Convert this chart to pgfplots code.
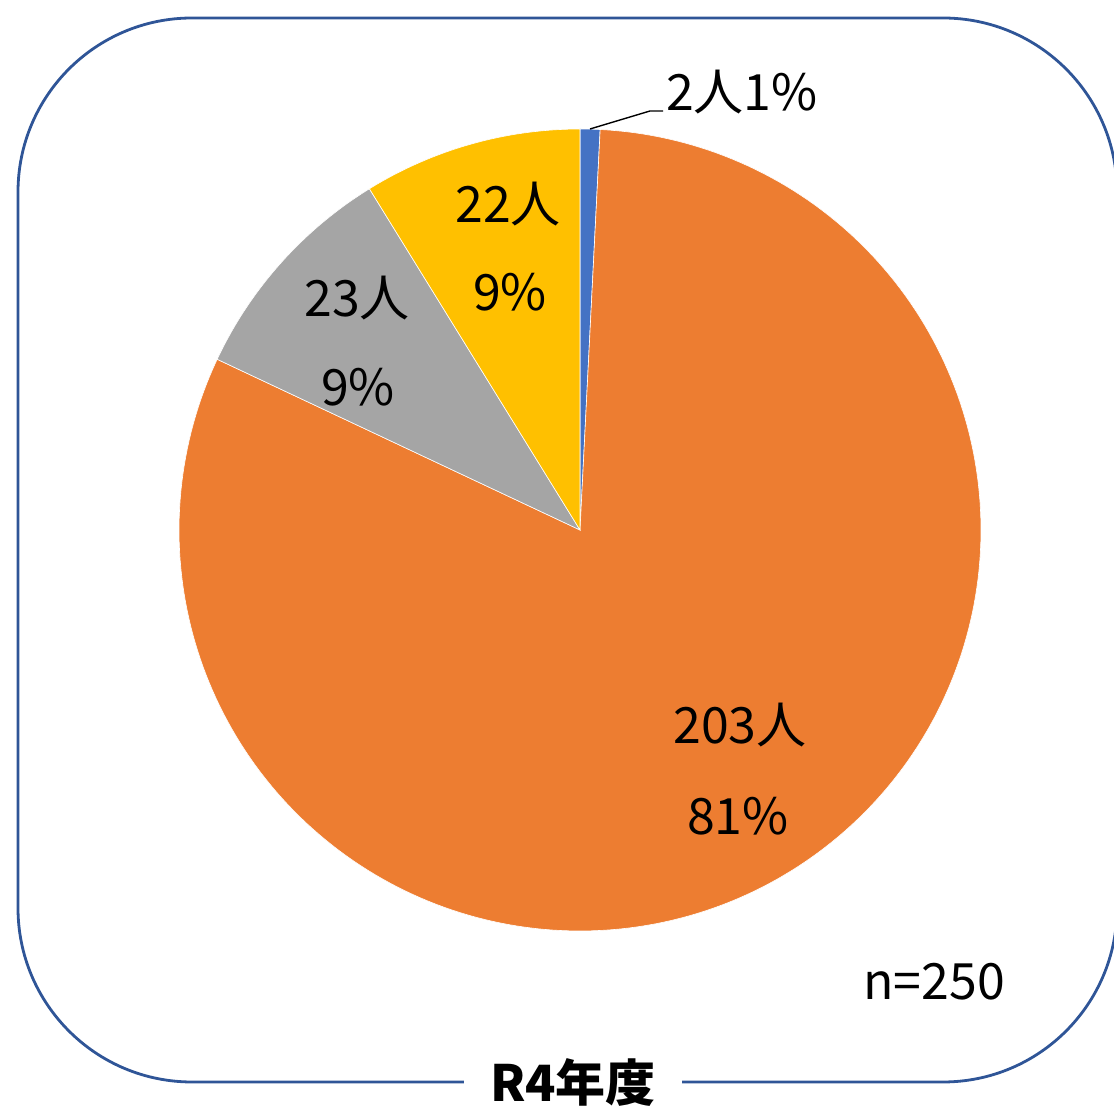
\documentclass[border=0pt]{standalone}
\usepackage{fontspec}
\setmainfont{Noto Sans CJK JP}
\usepackage{pgfplots}
\pgfplotsset{compat=1.18}
\definecolor{cblue}{HTML}{4472C4}
\definecolor{corange}{HTML}{ED7D31}
\definecolor{cgray}{HTML}{A5A5A5}
\definecolor{cyellow}{HTML}{FFC000}
\definecolor{cborder}{HTML}{2F5597}
\newcommand\lab{\fontsize{25bp}{30bp}\selectfont}
% data: counts per category (clockwise from 12 o'clock)
\def\vA{2}
\def\vB{203}
\def\vC{23}
\def\vD{22}
\begin{document}
\begin{tikzpicture}
\pgfmathsetmacro{\tot}{\vA+\vB+\vC+\vD}
\pgfmathsetmacro{\aA}{90}
\pgfmathsetmacro{\aB}{\aA-\vA/\tot*360}
\pgfmathsetmacro{\aC}{\aB-\vB/\tot*360}
\pgfmathsetmacro{\aD}{\aC-\vC/\tot*360}
\pgfmathsetmacro{\aE}{\aD-\vD/\tot*360}
\begin{axis}[hide axis, scale only axis, width=557bp, height=554bp,
  xmin=0, xmax=1114, ymin=0, ymax=1108, clip=true]
\addplot[fill=cblue, draw=white, line width=0.3bp, domain=\aB:\aA, samples=20]
  ({580+401*cos(x)},{578+401*sin(x)}) -- (axis cs:580,578) -- cycle;
\addplot[fill=corange, draw=white, line width=0.3bp, domain=\aC:\aB, samples=240]
  ({580+401*cos(x)},{578+401*sin(x)}) -- (axis cs:580,578) -- cycle;
\addplot[fill=cgray, draw=white, line width=0.3bp, domain=\aD:\aC, samples=40]
  ({580+401*cos(x)},{578+401*sin(x)}) -- (axis cs:580,578) -- cycle;
\addplot[fill=cyellow, draw=white, line width=0.3bp, domain=\aE:\aD, samples=40]
  ({580+401*cos(x)},{578+401*sin(x)}) -- (axis cs:580,578) -- cycle;
% border
\draw[cborder, line width=1.4bp, rounded corners=87bp] (axis cs:18,26) rectangle (axis cs:1117,1090);
% leader line
\draw[black, line width=0.7bp] (axis cs:590,979) -- (axis cs:650,997) -- (axis cs:663,997);
% labels
\node[font=\lab, inner sep=0pt] at (axis cs:742,1016) {2人1\%};
\node[font=\lab, inner sep=0pt] at (axis cs:508,904) {22人};
\node[font=\lab, inner sep=0pt] at (axis cs:510,816) {9\%};
\node[font=\lab, inner sep=0pt] at (axis cs:357,810) {23人};
\node[font=\lab, inner sep=0pt] at (axis cs:358,721) {9\%};
\node[font=\lab, inner sep=0pt] at (axis cs:740,383) {203人};
\node[font=\lab, inner sep=0pt] at (axis cs:738,292) {81\%};
\node[font=\lab, inner sep=0pt] at (axis cs:934,126) {n=250};
\node[font=\fontsize{25bp}{30bp}\selectfont\bfseries, fill=white, inner xsep=13bp, inner ysep=2bp] at (axis cs:573,26) {R4年度};
\end{axis}
\pgfresetboundingbox
\path (current axis.south west) rectangle (current axis.north east);
\end{tikzpicture}
\end{document}
